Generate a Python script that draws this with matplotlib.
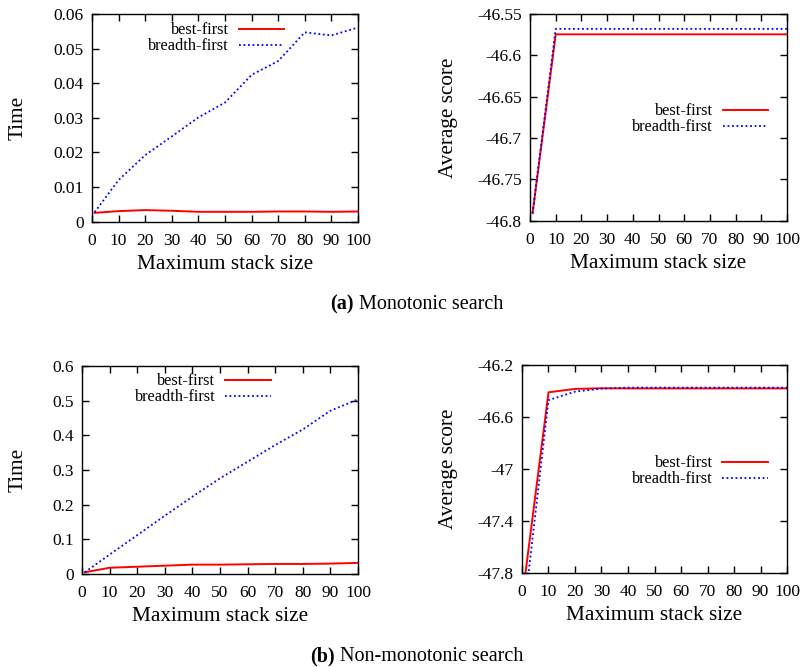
import matplotlib
matplotlib.use("Agg")
import matplotlib.pyplot as plt
from matplotlib import ticker
import numpy as np

plt.rcParams["font.family"] = ["Liberation Serif", "DejaVu Serif"]

# data
stack_size = [1, 10, 20, 30, 40, 50, 60, 70, 80, 90, 100]

# (a) monotonic search
mono_time_best = [0.0025, 0.0030, 0.0033, 0.0031, 0.0028, 0.0028, 0.0028, 0.0029, 0.0029, 0.0028, 0.0029]
mono_time_breadth = [0.0027, 0.0120, 0.0192, 0.0246, 0.0301, 0.0344, 0.0424, 0.0464, 0.0547, 0.0538, 0.0561]
mono_score_best = [-46.791, -46.5746, -46.5746, -46.5746, -46.5746, -46.5746, -46.5746, -46.5746, -46.5746, -46.5746, -46.5746]
mono_score_breadth = [-46.791, -46.568, -46.568, -46.568, -46.568, -46.568, -46.568, -46.568, -46.568, -46.568, -46.568]

# (b) non-monotonic search
nonmono_time_best = [0.005, 0.018, 0.021, 0.024, 0.027, 0.027, 0.028, 0.029, 0.029, 0.030, 0.032]
nonmono_time_breadth = [0.005, 0.056, 0.112, 0.168, 0.223, 0.276, 0.324, 0.372, 0.417, 0.471, 0.504]
nonmono_score_best = [-47.85, -46.41, -46.384, -46.379, -46.38, -46.38, -46.38, -46.38, -46.38, -46.38, -46.38]
nonmono_score_breadth = [-48.06, -46.47, -46.405, -46.382, -46.374, -46.374, -46.374, -46.374, -46.374, -46.374, -46.374]

series_names = ["best-first", "breadth-first"]
captions = [("(a)", " Monotonic search"), ("(b)", " Non-monotonic search")]

W, H = 804, 667
fig = plt.figure(figsize=(W / 100, H / 100), dpi=100)


def px_axes(left, top, right, bottom):
    return fig.add_axes([left / W, 1 - bottom / H, (right - left) / W, (bottom - top) / H])


def style(ax, ylim, ystep, ylabel, ylab_x, leg_loc, leg_anchor):
    ax.set_xlim(0, 100)
    ax.set_ylim(*ylim)
    ax.set_xticks(np.arange(0, 101, 10))
    ax.set_yticks(np.arange(ylim[0], ylim[1] + ystep / 2, ystep))
    ax.yaxis.set_major_formatter(ticker.FuncFormatter(lambda v, p: "%g" % round(v, 4)))
    ax.tick_params(direction="in", top=True, right=True, length=5, width=1,
                   labelsize=12.5, pad=6)
    ax.tick_params(axis="x", pad=8)
    for s in ax.spines.values():
        s.set_linewidth(1.0)
    ax.set_xlabel("Maximum stack size", fontsize=15.3)
    ax.xaxis.set_label_coords(0.5, -0.205)
    ax.xaxis.label.set_va("center")
    ax.set_ylabel(ylabel, fontsize=15.3)
    ax.yaxis.set_label_coords(ylab_x, 0.5)
    ax.yaxis.label.set_va("center")
    ax.legend(loc=leg_loc, bbox_to_anchor=leg_anchor, frameon=False, markerfirst=False,
              fontsize=11.7, handlelength=2.8, handletextpad=0.6, labelspacing=0.0,
              borderpad=0.2, borderaxespad=0)


def draw(ax, best, breadth):
    ax.plot(stack_size, best, color="#ff0000", lw=1.4, label=series_names[0])
    ax.plot(stack_size, breadth, color="#0000ff", lw=1.3, ls=(0, (1, 1.5)), label=series_names[1])


ax1 = px_axes(92, 14, 358, 221.5)
draw(ax1, mono_time_best, mono_time_breadth)
style(ax1, (0, 0.06), 0.01, "Time", -0.278, "upper right", (0.735, 0.975))

ax2 = px_axes(530, 14, 787, 220.7)
draw(ax2, mono_score_best, mono_score_breadth)
style(ax2, (-46.8, -46.55), 0.05, "Average score", -0.319, "center right", (0.94, 0.49))

ax3 = px_axes(82, 366, 358, 574)
draw(ax3, nonmono_time_best, nonmono_time_breadth)
style(ax3, (0, 0.6), 0.1, "Time", -0.232, "upper right", (0.695, 0.98))

ax4 = px_axes(522, 365, 787, 573)
draw(ax4, nonmono_score_best, nonmono_score_breadth)
style(ax4, (-47.8, -46.2), 0.4, "Average score", -0.279, "center right", (0.94, 0.488))

# sub-captions: bold tag followed by normal text, sharing one baseline
for (tag, text), yb in zip(captions, [309, 661]):
    t1 = fig.text(0, 1 - yb / H, tag, fontsize=14.5, fontweight="bold", va="baseline")
    t2 = fig.text(0, 1 - yb / H, text, fontsize=14.5, va="baseline")
    r = fig.canvas.get_renderer()
    w1 = t1.get_window_extent(r).width
    w2 = t2.get_window_extent(r).width
    x0 = 417 - (w1 + w2) / 2
    t1.set_x(x0 / W)
    t2.set_x((x0 + w1) / W)

fig.savefig("out.png", dpi=100)
